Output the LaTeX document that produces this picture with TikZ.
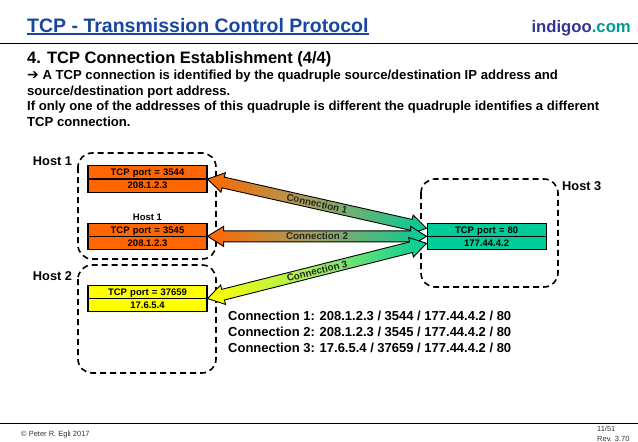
\documentclass[tikz,border=0pt]{standalone}
\usepackage{fontspec}
\setmainfont{Liberation Sans}
\newfontfamily\symbolfont{DejaVu Sans}
\usetikzlibrary{positioning,calc,shapes.multipart}

\definecolor{titleblue}{RGB}{25,70,160}
\definecolor{sitepurple}{RGB}{51,51,153}
\definecolor{siteteal}{RGB}{0,153,153}
\definecolor{portorange}{RGB}{255,102,0}
\definecolor{portyellow}{RGB}{255,255,0}
\definecolor{portgreen}{RGB}{0,204,153}

\newcommand\fsize[1]{\fontsize{#1}{#1}\selectfont}
\newcommand\cellrule{\rule[-2.6pt]{0pt}{12pt}}

% double block arrow from #1 to #2, shaded #3 -> #4, label #5
\newcommand\connarrow[5]{%
  \coordinate (ta) at ($(#1)!16pt!(#2)$);
  \coordinate (tb) at ($(#2)!16pt!(#1)$);
  \shade[left color=#3, right color=#4, middle color=#3!55!#4!85!white, draw=black, line width=0.9pt, line join=miter]
    (#1) -- ($(ta)!10pt!90:(#2)$) -- ($(ta)!5.5pt!90:(#2)$)
    -- ($(tb)!5.5pt!-90:(#1)$) -- ($(tb)!10pt!-90:(#1)$) -- (#2)
    -- ($(tb)!10pt!90:(#1)$) -- ($(tb)!5.5pt!90:(#1)$)
    -- ($(ta)!5.5pt!-90:(#2)$) -- ($(ta)!10pt!-90:(#2)$) -- cycle;
  \path (#1) -- (#2) node[midway, sloped, connlabel] {#5};
}

\begin{document}
\begin{tikzpicture}[x=1pt, y=-1pt,
  hostbox/.style={draw, line width=1.6pt, dash pattern=on 6pt off 4pt, rounded corners=14pt},
  portbox/.style={draw, line width=1.1pt, rectangle split, rectangle split parts=2,
    minimum width=119pt, text width=117pt, align=center, inner sep=0pt,
    font=\fsize{9.5}\bfseries},
  hostlabel/.style={inner sep=0pt, font=\fsize{12.8}\bfseries},
  connlabel/.style={inner sep=0pt, font=\fsize{9.8}\bfseries, text=black!85},
  footer/.style={inner sep=0pt, font=\fsize{7.5}, text=black!80}]
  \useasboundingbox (0,0) rectangle (638,442);

  % header
  \node[anchor=base west, inner sep=0pt, font=\fsize{19.5}\bfseries, text=titleblue] (title) at (27,32) {TCP - Transmission Control Protocol};
  \draw[titleblue, line width=1.3pt] ([yshift=-2pt]title.base west) -- ([yshift=-2pt]title.base east);
  \node[anchor=base east, inner sep=0pt, font=\fsize{16.7}\bfseries] (site) at (631,32) {\textcolor{sitepurple}{indigoo}\textcolor{siteteal}{.com}};
  \draw[line width=1pt] (0,43.5) -- (638,43.5);

  \node[anchor=base west, inner sep=0pt, font=\fsize{16.5}\bfseries] (heading) at (27,63) {4. TCP Connection Establishment (4/4)};
  % base anchor of a multi-line node sits on its last line
  \node[anchor=base west, inner sep=0pt, align=left, font=\fontsize{13.1}{15.6}\selectfont\bfseries] (intro) at (27,126.3)
    {{\symbolfont\fontsize{14}{15.6}\selectfont ➔} A TCP connection is identified by the quadruple source/destination IP address and\\
     source/destination port address.\\
     If only one of the addresses of this quadruple is different the quadruple identifies a different\\
     TCP connection.};

  % hosts
  \draw[hostbox] (78,153) rectangle (216,259);
  \draw[hostbox] (78,265) rectangle (216,373);
  \draw[hostbox] (421,179) rectangle (558,287);
  \node[hostlabel] (host1) at (52.5,161) {Host 1};
  \node[hostlabel] (host2) at (52.5,276) {Host 2};
  \node[hostlabel, anchor=west] (host3) at (562,186) {Host 3};

  % sockets
  \node[portbox, fill=portorange] (s3544) at (147.5,179) {\cellrule TCP port = 3544\nodepart{two}\cellrule 208.1.2.3};
  \node[portbox, fill=portorange, below=30pt of s3544] (s3545) {\cellrule TCP port = 3545\nodepart{two}\cellrule 208.1.2.3};
  \node[portbox, fill=portyellow, below=35pt of s3545] (s37659) {\cellrule TCP port = 37659\nodepart{two}\cellrule 17.6.5.4};
  \node[portbox, fill=portgreen, right=219pt of s3545] (s80) {\cellrule TCP port = 80\nodepart{two}\cellrule 177.44.4.2};
  \node[above=1pt of s3545, inner sep=1pt, font=\fsize{9.5}\bfseries] (host1small) {Host 1};

  % connections
  \coordinate (c1end) at ([yshift=8pt]s80.west);
  \coordinate (c3end) at ([yshift=-7pt]s80.west);
  \connarrow{s3544.east}{c1end}{portorange}{portgreen}{Connection 1}
  \connarrow{s3545.east}{s80.west}{portorange}{portgreen}{Connection 2}
  \connarrow{s37659.east}{c3end}{portyellow}{portgreen}{Connection 3}

  \node[anchor=base west, inner sep=0pt, align=left, font=\fontsize{13}{16}\selectfont\bfseries] (summary) at (228,352)
    {Connection 1: 208.1.2.3 / 3544 / 177.44.4.2 / 80\\
     Connection 2: 208.1.2.3 / 3545 / 177.44.4.2 / 80\\
     Connection 3: 17.6.5.4 / 37659 / 177.44.4.2 / 80};

  % footer
  \draw[line width=1pt] (0,423) -- (638,423);
  \node[footer, anchor=base west] (copy) at (21,436) {© Peter R. Egli 2017};
  \node[footer, anchor=base west] (page) at (597,431.5) {11/51};
  \node[footer, anchor=base west] (rev) at (597,441) {Rev. 3.70};
\end{tikzpicture}
\end{document}
